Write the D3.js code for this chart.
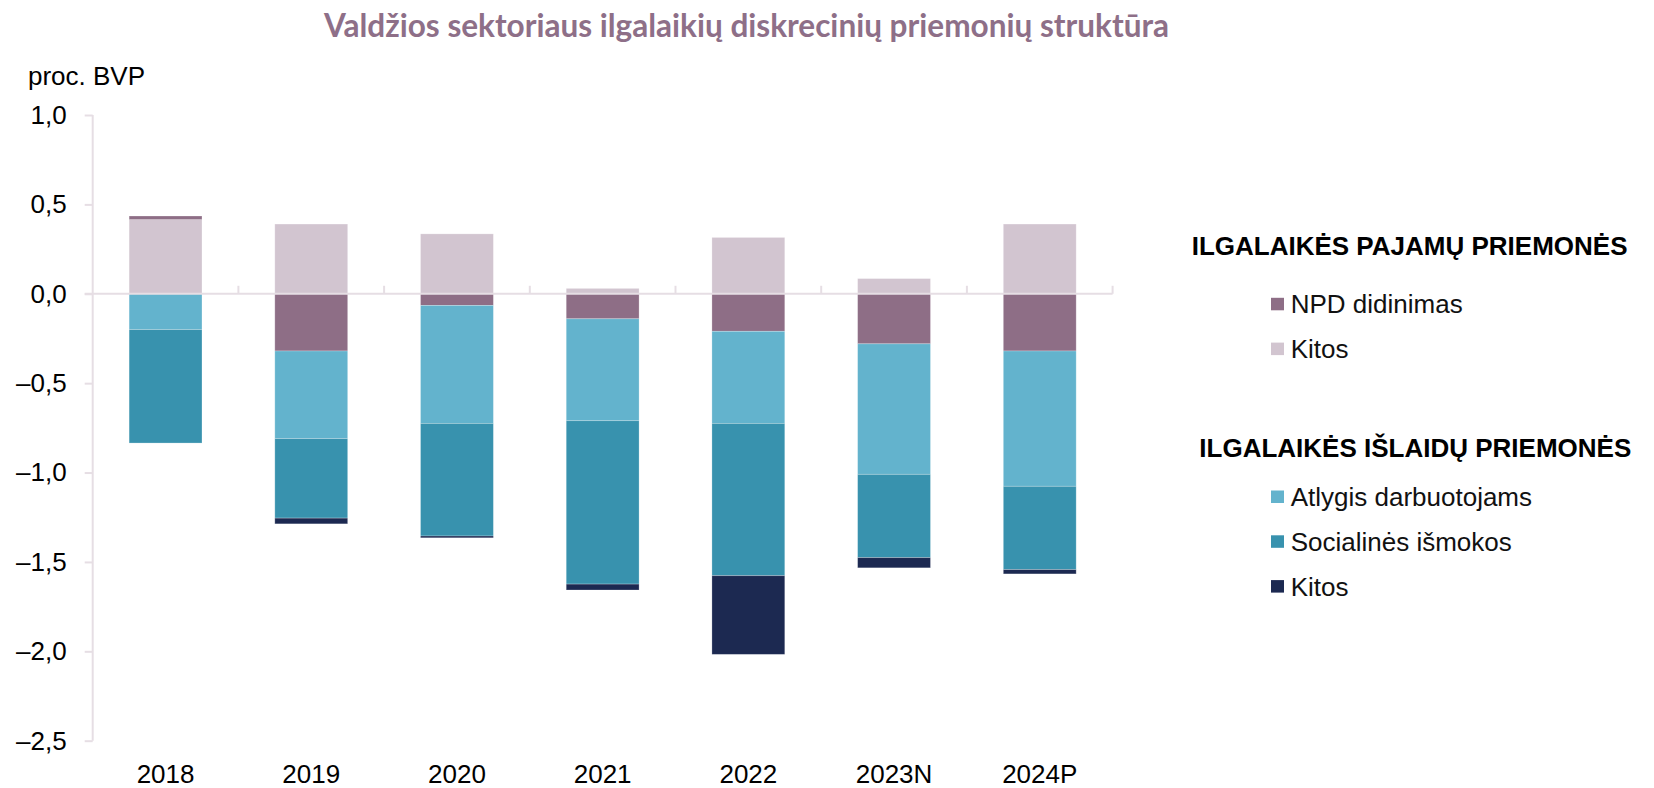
<html>
<head>
  <meta charset="utf-8">
  <title>Valdžios sektoriaus ilgalaikių diskrecinių priemonių struktūra</title>
  <script src="https://d3js.org/d3.v7.min.js"></script>
  <style>
    body { margin: 0; background: #fff; }
    text { font-family: "Liberation Sans", Arial, sans-serif; fill: #000; }
  </style>
</head>
<body>
  <div id="chart"></div>
  <script>
    // duomenys, proc. BVP
    var years = ["2018", "2019", "2020", "2021", "2022", "2023N", "2024P"];
    var npd = [0.02, -0.32, -0.065, -0.14, -0.21, -0.28, -0.32];
    var kitosPajamos = [0.415, 0.39, 0.335, 0.03, 0.315, 0.085, 0.39];
    var atlygis = [-0.2, -0.49, -0.66, -0.57, -0.515, -0.73, -0.757];
    var socialines = [-0.635, -0.445, -0.63, -0.914, -0.852, -0.466, -0.466];
    var kitosIslaidos = [0, -0.032, -0.01, -0.033, -0.44, -0.057, -0.024];
    var yTicks = [1, 0.5, 0, -0.5, -1, -1.5, -2, -2.5];

    var series = [
      { key: "kitosP", name: "Kitos", values: kitosPajamos, color: "#d2c5d0" },
      { key: "npd", name: "NPD didinimas", values: npd, color: "#8e6e86" },
      { key: "atlygis", name: "Atlygis darbuotojams", values: atlygis, color: "#63b3cd" },
      { key: "soc", name: "Socialinės išmokos", values: socialines, color: "#3892ae" },
      { key: "kitosI", name: "Kitos", values: kitosIslaidos, color: "#1c2951" }
    ];

    var width = 1654, height = 788,
        pLeft = 92.7, pRight = 1112.6, pTop = 115, pBottom = 740.7;

    var rows = years.map(function(y, i) {
      var r = { year: y };
      series.forEach(function(s) { r[s.key] = s.values[i]; });
      return r;
    });

    var stack = d3.stack()
        .keys(series.map(function(s) { return s.key; }))
        .offset(d3.stackOffsetDiverging);
    var stacked = stack(rows);

    var x = d3.scaleBand().domain(years).range([pLeft, pRight])
        .paddingInner(0.5).paddingOuter(0.25);
    var y = d3.scaleLinear().domain([-2.5, 1]).range([pBottom, pTop]);

    var fmt = function(v) {
      return (v < 0 ? "\u2013" : "") + Math.abs(v).toFixed(1).replace(".", ",");
    };

    var svg = d3.select("#chart").append("svg")
        .attr("width", width).attr("height", height);

    var grid = "#e6dee4";

    // title
    svg.append("text")
        .attr("x", 746.5).attr("y", 36.7)
        .attr("text-anchor", "middle")
        .attr("textLength", 845).attr("lengthAdjust", "spacingAndGlyphs")
        .style("font-family", "Lato, 'Open Sans', sans-serif")
        .style("font-weight", "700")
        .style("font-size", "33px")
        .style("fill", "#8e6f88")
        .text("Valdžios sektoriaus ilgalaikių diskrecinių priemonių struktūra");

    svg.append("text")
        .attr("x", 28).attr("y", 85)
        .style("font-size", "26px")
        .text("proc. BVP");

    // y axis
    var yAxis = svg.append("g")
        .attr("transform", "translate(" + pLeft + ",0)")
        .call(d3.axisLeft(y).tickValues(yTicks).tickFormat(fmt).tickSize(8).tickPadding(18));
    yAxis.selectAll("line, path").attr("stroke", grid).attr("stroke-width", 2);
    yAxis.select(".domain").attr("d", "M0," + pTop + "V" + pBottom);
    yAxis.selectAll("text").style("font-size", "26px").style("font-family", "'Liberation Sans', Arial, sans-serif").attr("fill", "#000");

    // bars
    svg.append("g").selectAll("g")
      .data(stacked)
      .join("g")
        .attr("fill", function(d, i) { return series[i].color; })
      .selectAll("rect")
      .data(function(d) { return d; })
      .join("rect")
        .attr("x", function(d) { return x(d.data.year); })
        .attr("width", x.bandwidth())
        .attr("y", function(d) { return y(Math.max(d[0], d[1])); })
        .attr("height", function(d) { return Math.abs(y(d[0]) - y(d[1])); })
        .attr("stroke", "rgba(255,255,255,0.3)")
        .attr("stroke-width", 0.8);

    // zero line with category ticks
    var zero = svg.append("g").attr("stroke", grid).attr("stroke-width", 2);
    zero.append("line")
        .attr("x1", pLeft - 8).attr("x2", pRight)
        .attr("y1", y(0)).attr("y2", y(0));
    var bounds = years.slice(1).map(function(d) { return x(d) - x.step() * x.paddingInner() / 2; });
    bounds.push(pRight);
    zero.selectAll(".tk")
      .data(bounds)
      .join("line")
        .attr("x1", function(d) { return d; }).attr("x2", function(d) { return d; })
        .attr("y1", y(0)).attr("y2", y(0) - 8);

    // category labels
    var xAxis = svg.append("g")
        .attr("transform", "translate(0," + pBottom + ")")
        .call(d3.axisBottom(x).tickSize(0).tickPadding(24));
    xAxis.select(".domain").remove();
    xAxis.selectAll("text").style("font-size", "26px").style("font-family", "'Liberation Sans', Arial, sans-serif").attr("fill", "#000");

    // legend
    var legend = svg.append("g");
    var groups = [
      { title: "ILGALAIKĖS PAJAMŲ PRIEMONĖS", tx: 1191.7, ty: 255, items: [series[1], series[0]], iy: 313.3 },
      { title: "ILGALAIKĖS IŠLAIDŲ PRIEMONĖS", tx: 1199.3, ty: 456.7, items: [series[2], series[3], series[4]], iy: 506 }
    ];
    groups.forEach(function(g) {
      legend.append("text")
          .attr("x", g.tx).attr("y", g.ty)
          .style("font-size", "26px").style("font-weight", "bold")
          .text(g.title);
      g.items.forEach(function(s, i) {
        var by = g.iy + i * 44.8;
        legend.append("rect")
            .attr("x", 1271).attr("y", by - 15.5)
            .attr("width", 13).attr("height", 12.5)
            .attr("fill", s.color);
        legend.append("text")
            .attr("x", 1290.7).attr("y", by)
            .style("font-size", "26px").style("fill", "#111")
            .text(s.name);
      });
    });
  </script>
</body>
</html>
